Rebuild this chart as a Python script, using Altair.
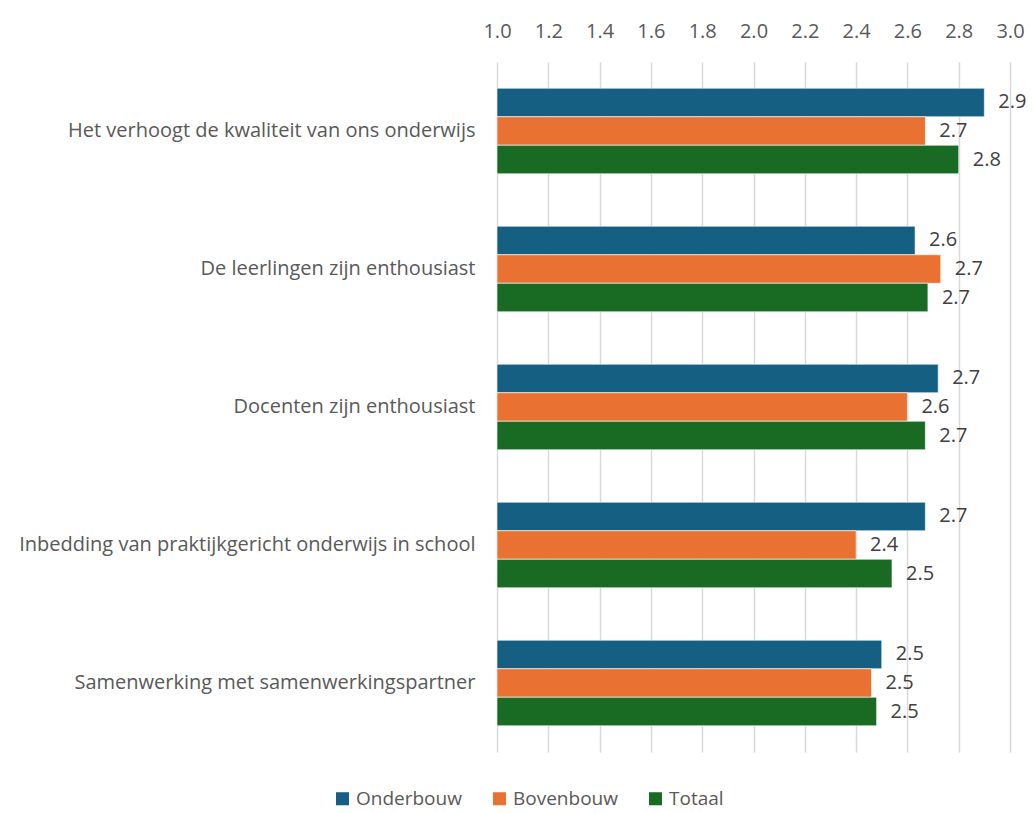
import altair as alt
import pandas as pd

categories = [
    "Het verhoogt de kwaliteit van ons onderwijs",
    "De leerlingen zijn enthousiast",
    "Docenten zijn enthousiast",
    "Inbedding van praktijkgericht onderwijs in school",
    "Samenwerking met samenwerkingspartner",
]
series = ["Onderbouw", "Bovenbouw", "Totaal"]
onderbouw = [2.90, 2.63, 2.72, 2.67, 2.50]
bovenbouw = [2.67, 2.73, 2.60, 2.40, 2.46]
totaal = [2.80, 2.68, 2.67, 2.54, 2.48]
colors = ["#156082", "#E97132", "#196B24"]
ticks = [1.0, 1.2, 1.4, 1.6, 1.8, 2.0, 2.2, 2.4, 2.6, 2.8, 3.0]

rows = []
for name, vals in zip(series, [onderbouw, bovenbouw, totaal]):
    for c, v in zip(categories, vals):
        rows.append({"categorie": c, "groep": name, "waarde": v})
df = pd.DataFrame(rows)

FONT = "Open Sans"

y_enc = alt.Y(
    "categorie:N",
    sort=categories,
    scale=alt.Scale(paddingInner=0.38, paddingOuter=0.19),
    axis=alt.Axis(
        title=None, ticks=False, domain=False, grid=False,
        labelFontSize=20, labelColor="#595959", labelPadding=22,
        labelFont=FONT, labelLimit=520,
    ),
)
yoff = alt.YOffset("groep:N", sort=series)

x_enc = alt.X(
    "waarde:Q",
    scale=alt.Scale(domain=[1.0, 3.0], zero=False, nice=False),
    axis=alt.Axis(
        orient="top", title=None, values=ticks, format=".1f",
        ticks=False, domain=False, grid=True, gridColor="#d9d9d9",
        gridWidth=1.5, labelFontSize=20, labelColor="#595959",
        labelPadding=21, labelFont=FONT, labelFlush=False,
        labelOverlap=False,
    ),
)

bars = alt.Chart(df).mark_bar(stroke="white", strokeWidth=0.6).encode(
    y=y_enc,
    yOffset=yoff,
    x=x_enc,
    x2=alt.datum(1.0),
    color=alt.Color(
        "groep:N",
        sort=series,
        scale=alt.Scale(domain=series, range=colors),
        legend=alt.Legend(
            title=None, orient="none", direction="horizontal",
            legendX=-164, legendY=727, symbolType="square",
            symbolSize=170, symbolStrokeWidth=0, labelFontSize=19,
            labelColor="#595959", labelFont=FONT, columnPadding=28,
            labelOffset=4,
        ),
    ),
)

labels = alt.Chart(df).mark_text(
    align="left", baseline="middle", dx=14, fontSize=20,
    color="#404040", font=FONT,
).encode(
    y=alt.Y("categorie:N", sort=categories),
    yOffset=yoff,
    x=alt.X("waarde:Q"),
    text=alt.Text("waarde:Q", format=".1f"),
)

chart = (
    alt.layer(bars, labels)
    .properties(
        width=513,
        height=690,
        autosize=alt.AutoSizeParams(type="none"),
        padding={"left": 489, "top": 54, "right": 16, "bottom": 60},
    )
    .configure_view(stroke=None)
)

chart.save("out.html", embed_options={"renderer": "svg", "actions": False})
